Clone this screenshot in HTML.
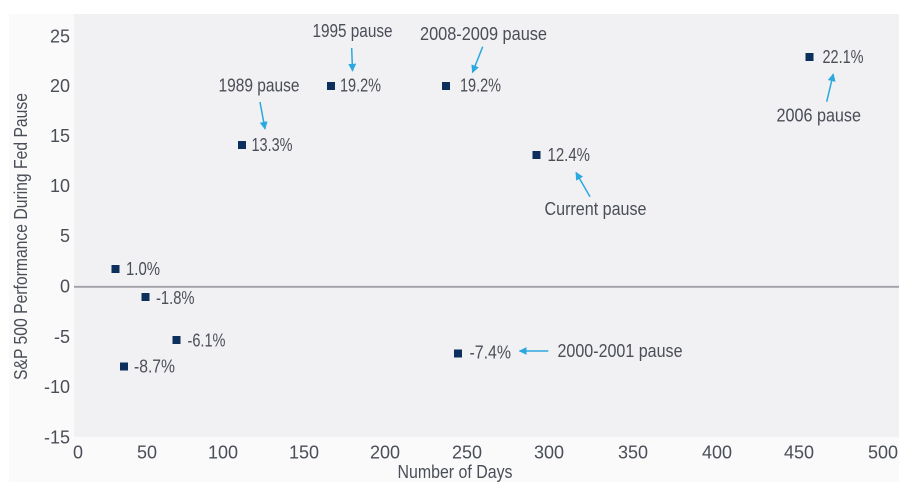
<!DOCTYPE html>
<html><head><meta charset="utf-8"><style>
html,body{margin:0;padding:0;background:#fff;}
svg{display:block;}
text{font-family:"Liberation Sans",sans-serif;fill:#4a4e56;font-size:18px;}
</style></head><body>
<svg width="913" height="482" viewBox="0 0 913 482" xmlns="http://www.w3.org/2000/svg">
<defs>
<marker id="ah" viewBox="0 0 10 10" refX="9" refY="5" markerWidth="8" markerHeight="8" markerUnits="userSpaceOnUse" orient="auto">
<path d="M0,0 L10,5 L0,10 z" fill="#2aa8e0"/>
</marker>
</defs>
<rect x="0" y="0" width="913" height="482" fill="#ffffff"/>
<rect x="9" y="14" width="890" height="468" fill="#fafafb"/>
<rect x="74" y="14" width="825" height="423" fill="#f1f1f4"/>
<line x1="74" y1="286.8" x2="899" y2="286.8" stroke="#9fa1a6" stroke-width="1.8"/>

<!-- Y tick labels -->
<g text-anchor="end">
<text x="70" y="42.5">25</text>
<text x="70" y="92">20</text>
<text x="70" y="142">15</text>
<text x="70" y="192">10</text>
<text x="70" y="242">5</text>
<text x="70" y="292.5">0</text>
<text x="70" y="343">-5</text>
<text x="70" y="393">-10</text>
<text x="70" y="443.5">-15</text>
</g>

<!-- X tick labels -->
<g text-anchor="middle">
<text x="78" y="458.5">0</text>
<text x="147" y="458.5">50</text>
<text x="223" y="458.5">100</text>
<text x="304" y="458.5">150</text>
<text x="385" y="458.5">200</text>
<text x="467" y="458.5">250</text>
<text x="549" y="458.5">300</text>
<text x="633" y="458.5">350</text>
<text x="717" y="458.5">400</text>
<text x="799" y="458.5">450</text>
<text x="883" y="458.5">500</text>
</g>

<text x="455" y="478" text-anchor="middle" textLength="115" lengthAdjust="spacingAndGlyphs">Number of Days</text>
<text transform="translate(27,236.5) rotate(-90)" x="0" y="0" text-anchor="middle" textLength="287" lengthAdjust="spacingAndGlyphs">S&amp;P 500 Performance During Fed Pause</text>

<!-- markers -->
<g fill="#0c2f5b">
<rect x="238" y="141" width="8" height="8"/>
<rect x="327" y="82" width="8" height="8"/>
<rect x="442" y="82" width="8" height="8"/>
<rect x="532.5" y="151" width="8" height="8"/>
<rect x="805.5" y="53" width="8" height="8"/>
<rect x="111.5" y="265" width="8" height="8"/>
<rect x="141.5" y="293" width="8" height="8"/>
<rect x="172.5" y="336" width="8" height="8"/>
<rect x="120" y="362.5" width="8" height="8"/>
<rect x="454" y="349.5" width="8" height="8"/>
</g>

<!-- value labels -->
<text x="251.5" y="151" textLength="41" lengthAdjust="spacingAndGlyphs">13.3%</text>
<text x="340" y="91.5" textLength="41" lengthAdjust="spacingAndGlyphs">19.2%</text>
<text x="460" y="91.5" textLength="41" lengthAdjust="spacingAndGlyphs">19.2%</text>
<text x="547.5" y="161" textLength="42.5" lengthAdjust="spacingAndGlyphs">12.4%</text>
<text x="822.5" y="63" textLength="41" lengthAdjust="spacingAndGlyphs">22.1%</text>
<text x="126" y="275" textLength="34" lengthAdjust="spacingAndGlyphs">1.0%</text>
<text x="156" y="304" textLength="38.5" lengthAdjust="spacingAndGlyphs">-1.8%</text>
<text x="187.5" y="346.5" textLength="38" lengthAdjust="spacingAndGlyphs">-6.1%</text>
<text x="134" y="372.5" textLength="41" lengthAdjust="spacingAndGlyphs">-8.7%</text>
<text x="469.5" y="358.5" textLength="41.5" lengthAdjust="spacingAndGlyphs">-7.4%</text>

<!-- annotation labels -->
<text x="218.5" y="91.5" textLength="81" lengthAdjust="spacingAndGlyphs">1989 pause</text>
<text x="312.5" y="37" textLength="80" lengthAdjust="spacingAndGlyphs">1995 pause</text>
<text x="420" y="40" textLength="127" lengthAdjust="spacingAndGlyphs">2008-2009 pause</text>
<text x="544.5" y="215" textLength="102" lengthAdjust="spacingAndGlyphs">Current pause</text>
<text x="776.5" y="121.5" textLength="84.5" lengthAdjust="spacingAndGlyphs">2006 pause</text>
<text x="557.5" y="357" textLength="125" lengthAdjust="spacingAndGlyphs">2000-2001 pause</text>

<!-- arrows -->
<g stroke="#2aa8e0" stroke-width="1.5" fill="none" marker-end="url(#ah)">
<line x1="260" y1="102" x2="265" y2="129"/>
<line x1="351.7" y1="48" x2="352.5" y2="71"/>
<line x1="482.7" y1="46.7" x2="472.5" y2="72.5"/>
<line x1="590" y1="196.7" x2="576" y2="172.5"/>
<line x1="826.7" y1="101.7" x2="833.3" y2="74"/>
<line x1="548.3" y1="351" x2="519.5" y2="351"/>
</g>
</svg>
</body></html>
